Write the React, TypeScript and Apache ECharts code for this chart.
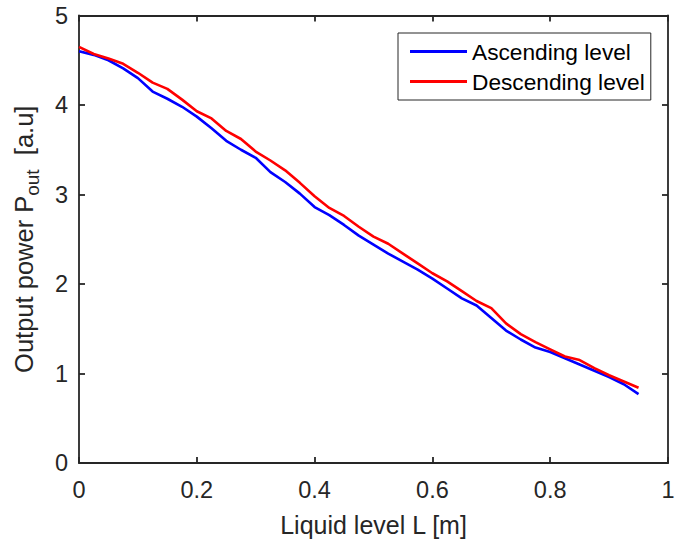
import React, { useEffect, useRef } from "react";
import * as echarts from "echarts";

const levels = [
  0, 0.025, 0.05, 0.075, 0.1, 0.125, 0.15, 0.175, 0.2, 0.225, 0.25, 0.275, 0.3,
  0.325, 0.35, 0.375, 0.4, 0.425, 0.45, 0.475, 0.5, 0.525, 0.55, 0.575, 0.6,
  0.625, 0.65, 0.675, 0.7, 0.725, 0.75, 0.775, 0.8, 0.825, 0.85, 0.875, 0.9,
  0.925, 0.95,
];

const ascending = [
  4.6, 4.56, 4.5, 4.41, 4.3, 4.15, 4.07, 3.98, 3.87, 3.74, 3.6, 3.5, 3.41,
  3.25, 3.14, 3.01, 2.86, 2.77, 2.66, 2.54, 2.44, 2.34, 2.25, 2.16, 2.06,
  1.95, 1.84, 1.76, 1.62, 1.48, 1.38, 1.29, 1.24, 1.17, 1.1, 1.03, 0.96,
  0.88, 0.77,
];

const descending = [
  4.65, 4.57, 4.52, 4.46, 4.36, 4.25, 4.18, 4.06, 3.93, 3.85, 3.71, 3.62,
  3.48, 3.38, 3.27, 3.13, 2.98, 2.85, 2.76, 2.64, 2.53, 2.45, 2.34, 2.23,
  2.12, 2.03, 1.92, 1.81, 1.73, 1.56, 1.44, 1.35, 1.27, 1.19, 1.15, 1.06,
  0.98, 0.91, 0.84,
];

const seriesNames = ["Ascending level", "Descending level"];
const FONT = 'Arial, "Liberation Sans", Helvetica, sans-serif';
const AX = "#262626";

export default function App() {
  const ref = useRef<HTMLDivElement>(null);
  useEffect(() => {
    if (!ref.current) return;
    const chart = echarts.init(ref.current, null, { renderer: "svg" });
    const axisCommon = {
      axisLine: { show: true, onZero: false, lineStyle: { color: AX, width: 1.8 } },
      axisTick: { show: true, inside: true, length: 6, lineStyle: { color: AX, width: 1.8 } },
      splitLine: { show: false },
    };
    chart.setOption({
      animation: false,
      backgroundColor: "#ffffff",
      textStyle: { fontFamily: FONT },
      grid: { left: 79, right: 20, top: 15.5, bottom: 76.5, containLabel: false },
      legend: {
        left: 398,
        top: 33,
        orient: "vertical",
        backgroundColor: "#ffffff",
        borderColor: AX,
        borderWidth: 1,
        borderRadius: 0,
        padding: [7, 6, 7, 12],
        itemGap: 7,
        itemWidth: 57,
        itemHeight: 3,
        icon: "rect",
        textStyle: { fontSize: 22.7, color: "#000", fontFamily: FONT, lineHeight: 23 },
        data: seriesNames,
      },
      xAxis: [
        {
          type: "value",
          position: "bottom",
          min: 0,
          max: 1,
          interval: 0.2,
          ...axisCommon,
          axisLabel: { fontSize: 23.5, color: AX, margin: 15, fontFamily: FONT },
          name: "Liquid level L [m]",
          nameLocation: "middle",
          nameGap: 49,
          nameTextStyle: { fontSize: 25, color: AX, fontFamily: FONT },
        },
        {
          type: "value",
          position: "top",
          min: 0,
          max: 1,
          interval: 0.2,
          ...axisCommon,
          axisLabel: { show: false },
        },
      ],
      yAxis: [
        {
          type: "value",
          position: "left",
          min: 0,
          max: 5,
          interval: 1,
          ...axisCommon,
          axisLabel: { fontSize: 23.5, color: AX, margin: 11, fontFamily: FONT },
          name: "Output power P{sub|out}  [a.u]",
          nameLocation: "middle",
          nameGap: 37.5,
          nameTextStyle: {
            fontSize: 25.5,
            color: AX,
            fontFamily: FONT,
            rich: {
              sub: { fontSize: 19, color: AX, fontFamily: FONT, padding: [17, 0, 0, 0] },
            },
          },
        },
        {
          type: "value",
          position: "right",
          min: 0,
          max: 5,
          interval: 1,
          ...axisCommon,
          axisLabel: { show: false },
        },
      ],
      series: [
        {
          name: seriesNames[0],
          type: "line",
          xAxisIndex: 0,
          yAxisIndex: 0,
          showSymbol: false,
          symbol: "none",
          color: "#0000ff",
          lineStyle: { color: "#0000ff", width: 2.6 },
          data: levels.map((x, i) => [x, ascending[i]]),
        },
        {
          name: seriesNames[1],
          type: "line",
          xAxisIndex: 0,
          yAxisIndex: 0,
          showSymbol: false,
          symbol: "none",
          color: "#ff0000",
          lineStyle: { color: "#ff0000", width: 2.6 },
          data: levels.map((x, i) => [x, descending[i]]),
        },
      ],
    });
    return () => chart.dispose();
  }, []);
  return (
    <div
      ref={ref}
      style={{ position: "fixed", left: 0, top: 0, width: 688, height: 542 }}
    />
  );
}
